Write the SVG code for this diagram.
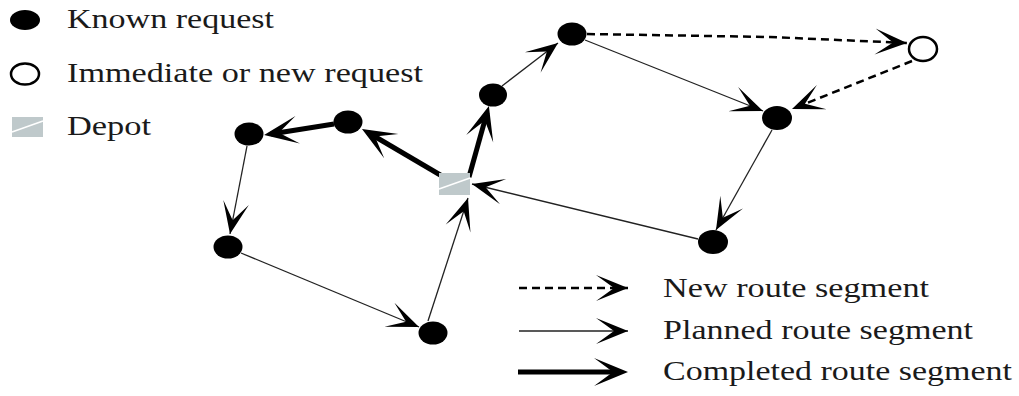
<svg xmlns="http://www.w3.org/2000/svg" width="1019" height="396" viewBox="0 0 1019 396">
  <style>
    .txt { font-family: "Liberation Serif", "Times New Roman", serif; font-size: 27px; fill: #1a1a1a; }
    .node { fill: #000; }
    .open { fill: #fff; stroke: #000; stroke-width: 2.5; }
    .depot { fill: #bfc9cb; }
    .depotline { stroke: #fff; stroke-width: 1.5; }
    .thin { fill: none; stroke: #222; stroke-width: 1.3; marker-end: url(#ahThin); }
    .thick { fill: none; stroke: #000; stroke-width: 5; marker-end: url(#ahThick); }
    .dash { fill: none; stroke: #000; stroke-width: 2.5; stroke-dasharray: 8 5; marker-end: url(#ahThin); }
  </style>
  <defs>
    <marker id="ahThin" markerUnits="userSpaceOnUse" viewBox="-40 -20 50 40" markerWidth="50" markerHeight="40" refX="0" refY="0" orient="auto" overflow="visible">
      <path d="M0,0 L-32,-13 L-14,0 L-32,13 Z" fill="#000"/>
    </marker>
    <marker id="ahThick" markerUnits="userSpaceOnUse" viewBox="-40 -20 50 40" markerWidth="50" markerHeight="40" refX="0" refY="0" orient="auto" overflow="visible">
      <path d="M7,0 L-27,-14 L-8,0 L-27,14 Z" fill="#000"/>
    </marker>
  </defs>

  <g id="legend-known">
    <ellipse class="node" cx="25" cy="20" rx="15" ry="10"/>
    <text class="txt" x="67" y="28" textLength="207" lengthAdjust="spacingAndGlyphs">Known request</text>
  </g>
  <g id="legend-new">
    <ellipse class="open" cx="25" cy="74" rx="14" ry="10.5"/>
    <text class="txt" x="67" y="82" textLength="356" lengthAdjust="spacingAndGlyphs">Immediate or new request</text>
  </g>
  <g id="legend-depot">
    <rect class="depot" x="12" y="117" width="31" height="20"/>
    <line class="depotline" x1="12" y1="132" x2="43" y2="121"/>
    <text class="txt" x="67" y="135" textLength="84" lengthAdjust="spacingAndGlyphs">Depot</text>
  </g>

  <g id="connectors">
    <path class="thick" d="M442,176 L368,132.5"/>
    <path class="thick" d="M334,124 L271,134"/>
    <path class="thick" d="M469,177 L487,112.7"/>
    <path class="thin" d="M247,146 L230,234"/>
    <path class="thin" d="M241,253 L419,327"/>
    <path class="thin" d="M428,321 L468,198"/>
    <path class="thin" d="M502,86 L558,43"/>
    <path class="thin" d="M585,40 L763,111"/>
    <path class="thin" d="M772,130 L716,230"/>
    <path class="thin" d="M698,239 L472,184"/>
    <path class="dash" d="M587,34 L770,37 L907,43"/>
    <path class="dash" d="M912,61 L792,109"/>
  </g>

  <g id="depot">
    <rect class="depot" x="439" y="173" width="31" height="22"/>
    <line class="depotline" x1="439" y1="189" x2="470" y2="178"/>
  </g>
  <g id="node-a"><ellipse class="node" cx="249" cy="134" rx="14.5" ry="11.5"/></g>
  <g id="node-b"><ellipse class="node" cx="348" cy="122" rx="14.5" ry="11.5"/></g>
  <g id="node-c"><ellipse class="node" cx="228" cy="247" rx="14.5" ry="11.5"/></g>
  <g id="node-d"><ellipse class="node" cx="433" cy="333" rx="14.5" ry="11.5"/></g>
  <g id="node-e"><ellipse class="node" cx="493" cy="95" rx="14" ry="11.5"/></g>
  <g id="node-f"><ellipse class="node" cx="572" cy="34" rx="14.5" ry="11.5"/></g>
  <g id="node-g"><ellipse class="open" cx="923" cy="49" rx="14" ry="12"/></g>
  <g id="node-h"><ellipse class="node" cx="777" cy="118" rx="15" ry="12"/></g>
  <g id="node-i"><ellipse class="node" cx="713" cy="242" rx="15" ry="12"/></g>

  <g id="legend-routes">
    <path class="dash" d="M519,288 L628,288"/>
    <text class="txt" x="663" y="297" textLength="266" lengthAdjust="spacingAndGlyphs">New route segment</text>
    <path class="thin" d="M519,331 L628,331"/>
    <text class="txt" x="663" y="339" textLength="310" lengthAdjust="spacingAndGlyphs">Planned route segment</text>
    <path class="thick" d="M518,372 L621,372"/>
    <text class="txt" x="663" y="380" textLength="349" lengthAdjust="spacingAndGlyphs">Completed route segment</text>
  </g>
</svg>
